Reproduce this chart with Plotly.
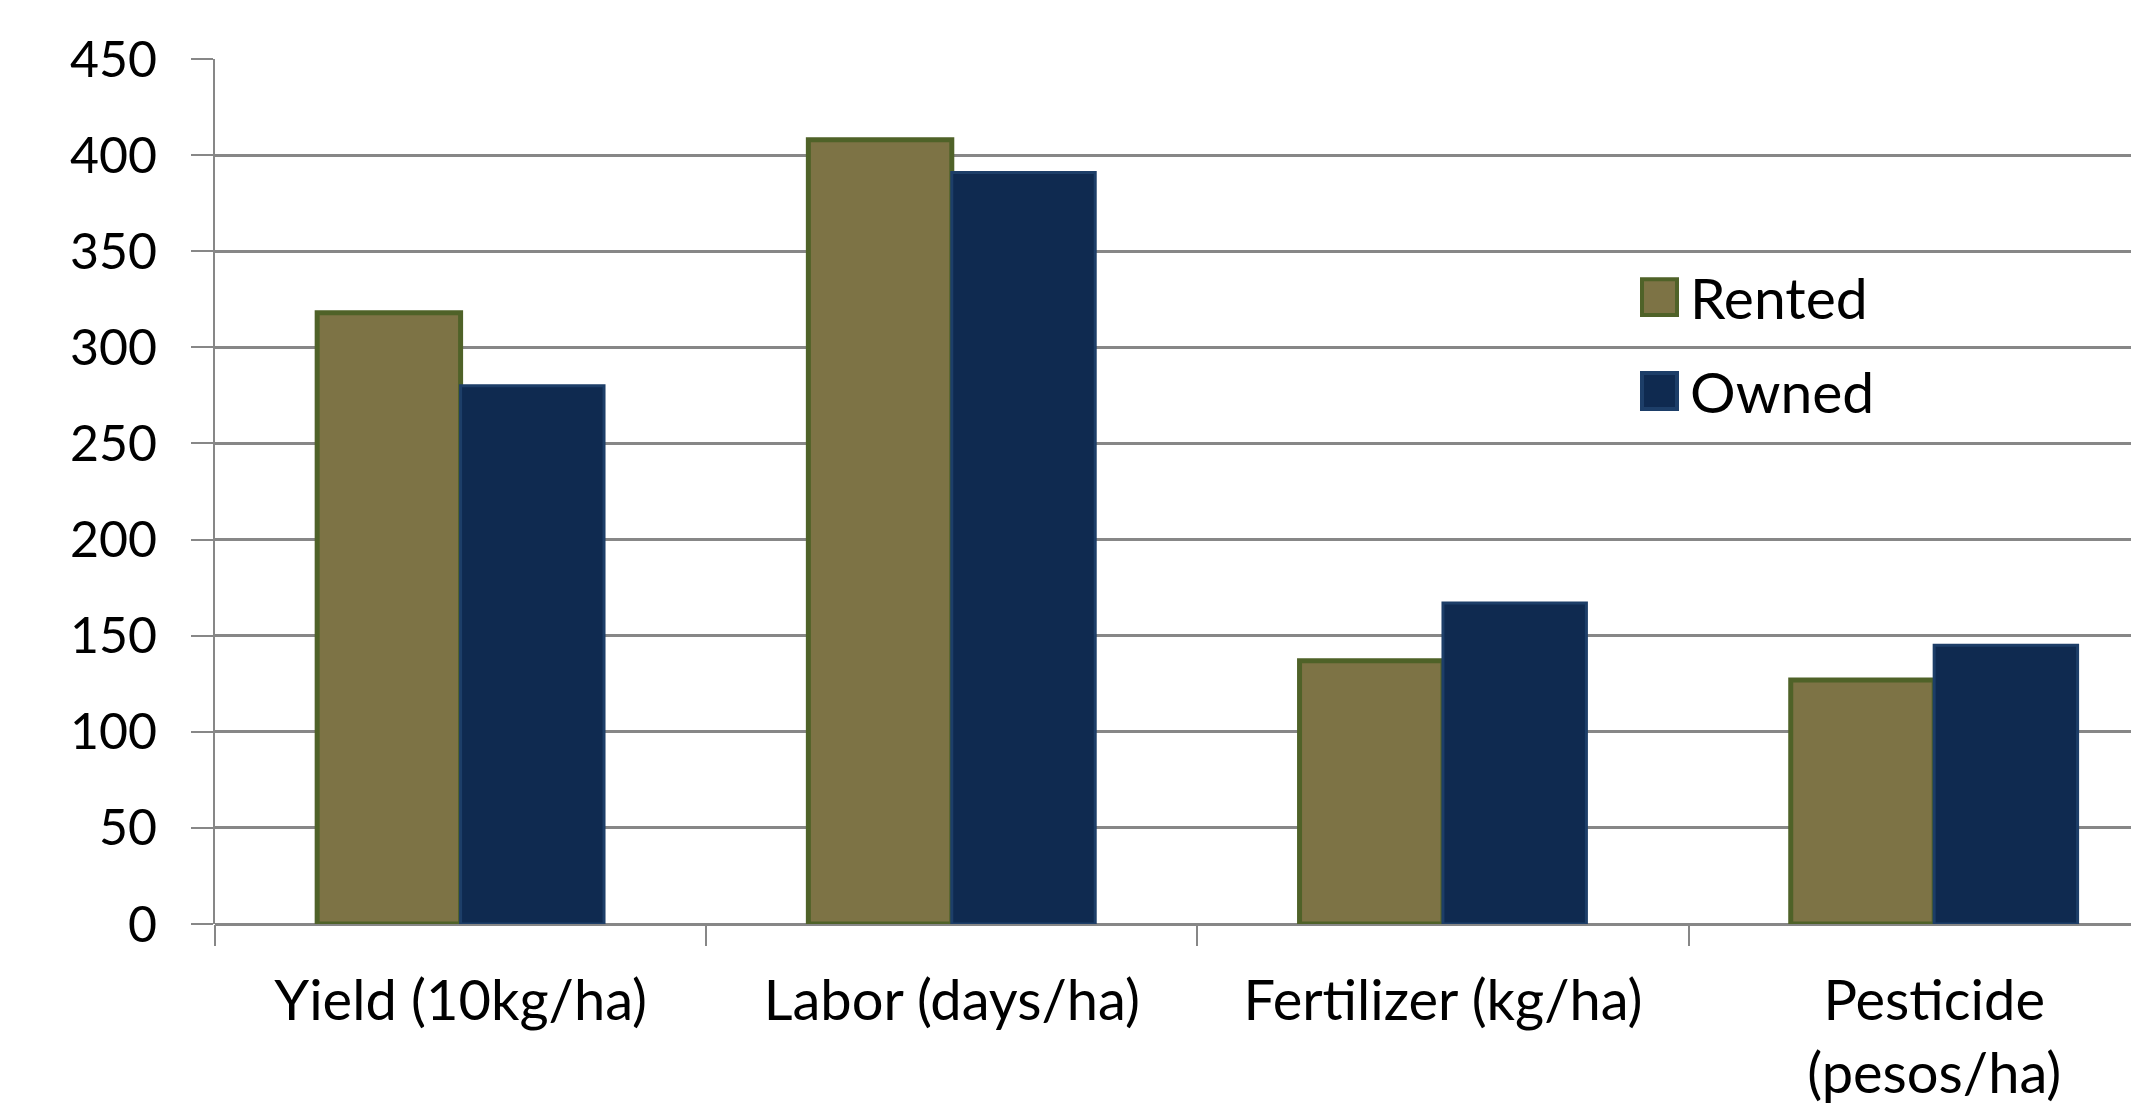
import plotly.graph_objects as go

categories = ["Yield (10kg/ha)", "Labor (days/ha)", "Fertilizer (kg/ha)", "Pesticide<br>(pesos/ha)"]
series_names = ["Rented", "Owned"]
rented = [318, 408, 137, 127]
owned = [280, 391, 167, 145]
y_ticks = [0, 50, 100, 150, 200, 250, 300, 350, 400, 450]

# page body has an 8px margin, so the figure is sized to fit the window
OFF = 8
W, H = 2139 - OFF, 1105 - OFF
ML, MR, MT, MB = 215 - OFF, 0, 59.3 - OFF, 1105 - 926.3
FONT = "Lato, Calibri, Carlito, 'Open Sans', sans-serif"

fill_colors = ["#7d7345", "#0f2a50"]
line_colors = ["#4f6228", "#1d3e68"]
line_widths = [5, 3]

fig = go.Figure()
for name, vals, fc, lc, lw in zip(series_names, [rented, owned], fill_colors, line_colors, line_widths):
    fig.add_trace(go.Bar(
        name=name, x=categories, y=vals,
        marker=dict(color=fc, line=dict(color=lc, width=lw)),
        showlegend=False,
    ))

# custom legend (large swatches like the original); positions in page pixels
pw, ph = W - ML - MR, H - MT - MB
def px_to_paper(px, py):
    return (px - OFF - ML) / pw, (OFF + H - MB - py) / ph

legend_rows = [298, 392]
for name, fc, lc, cy in zip(series_names, fill_colors, line_colors, legend_rows):
    x0, y0 = px_to_paper(1642, cy + 18)
    x1, y1 = px_to_paper(1677, cy - 18)
    fig.add_shape(type="rect", xref="paper", yref="paper", x0=x0, x1=x1, y0=y0, y1=y1,
                  fillcolor=fc, line=dict(color=lc, width=4), layer="above")
    tx, ty = px_to_paper(1688, cy)
    fig.add_annotation(text=name, xref="paper", yref="paper", x=tx, y=ty,
                       xanchor="left", yanchor="middle", showarrow=False,
                       font=dict(family=FONT, size=57, color="#000000"))

fig.update_layout(
    width=W, height=H,
    margin=dict(l=ML, r=MR, t=MT, b=MB, pad=0),
    paper_bgcolor="white", plot_bgcolor="white",
    barmode="group", bargap=0.416, bargroupgap=0,
    font=dict(family=FONT, size=56, color="#000000"),
)
fig.update_xaxes(
    range=[-0.5, 3.417], tickson="boundaries", ticks="outside", ticklen=21,
    tickwidth=2, tickcolor="#878787", showline=False, showgrid=False,
    tickfont=dict(family=FONT, size=56, color="#000000"), ticklabelstandoff=39,
)
fig.update_yaxes(
    range=[0, 450], tickvals=y_ticks, ticks="outside", ticklen=22, tickwidth=2,
    tickcolor="#878787", showline=True, linecolor="#878787", linewidth=2,
    showgrid=True, gridcolor="#878787", gridwidth=2.5, zeroline=True,
    zerolinecolor="#878787", zerolinewidth=2.5,
    tickfont=dict(family=FONT, size=50, color="#000000"), ticklabelstandoff=24,
)

fig.write_html("out.html")
